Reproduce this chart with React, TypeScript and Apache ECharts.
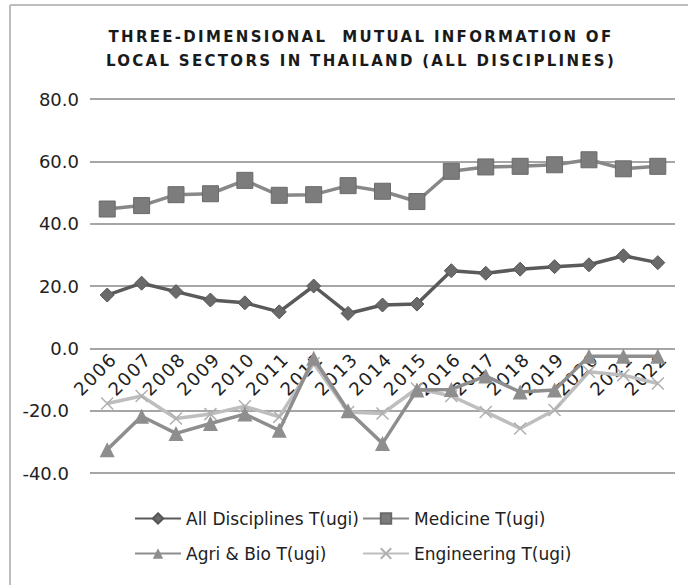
import React, { useEffect, useRef } from "react";
import * as echarts from "echarts";

const years = ["2006","2007","2008","2009","2010","2011","2012","2013","2014","2015","2016","2017","2018","2019","2020","2021","2022"];
const allDisciplines = [17.1, 20.9, 18.2, 15.5, 14.6, 11.7, 20.0, 11.2, 13.9, 14.2, 24.9, 24.1, 25.4, 26.2, 26.8, 29.7, 27.5];
const medicine = [44.7, 45.8, 49.3, 49.6, 53.9, 49.1, 49.3, 52.2, 50.4, 47.1, 56.8, 58.2, 58.4, 58.9, 60.5, 57.6, 58.4];
const agriBio = [-32.5, -21.8, -27.3, -24.1, -21.1, -26.3, -3.2, -20.0, -30.5, -13.4, -13.2, -8.9, -14.0, -13.4, -2.5, -2.5, -2.5];
const engineering = [-17.7, -15.3, -22.5, -21.1, -18.6, -22.0, -4.8, -20.4, -20.9, -12.9, -15.3, -20.4, -25.7, -19.8, -7.5, -8.6, -11.3];
const seriesNames = ["All Disciplines T(ugi)", "Medicine T(ugi)", "Agri & Bio T(ugi)", "Engineering T(ugi)"];
const titleLines = ["THREE-DIMENSIONAL  MUTUAL INFORMATION OF", "LOCAL SECTORS IN THAILAND (ALL DISCIPLINES)"];

export default function App() {
  const ref = useRef<HTMLDivElement>(null);
  useEffect(() => {
    if (!ref.current) return;
    const chart = echarts.init(ref.current, null, { renderer: "svg" });
    const font = "DejaVu Sans";
    const legendPos = [
      { left: 134, top: 510 },
      { left: 362, top: 510 },
      { left: 134, top: 545 },
      { left: 362, top: 545 },
    ];
    chart.setOption({
      animation: false,
      backgroundColor: "#ffffff",
      title: {
        text: titleLines.join("\n"),
        left: 356,
        textAlign: "center",
        top: 20,
        textStyle: {
          fontFamily: "DejaVu Sans",
          fontWeight: "bold",
          fontSize: 15,
          color: "#1a1a1a",
          lineHeight: 24,
        },
      },
      graphic: [
        { type: "line", shape: { x1: 10, y1: 5, x2: 10, y2: 585 }, style: { stroke: "#bdbdbd", lineWidth: 2 } },
        { type: "line", shape: { x1: 10, y1: 5, x2: 688, y2: 5 }, style: { stroke: "#bdbdbd", lineWidth: 2 } },
      ],
      legend: seriesNames.map((n, i) => ({
        data: [n],
        left: legendPos[i].left,
        top: legendPos[i].top,
        itemWidth: 46,
        itemHeight: 13,
        itemGap: 2,
        padding: 0,
        textStyle: { fontFamily: font, fontSize: 17, color: "#222" },
      })),
      grid: { left: 90, right: 13, top: 99, bottom: 112 },
      xAxis: {
        type: "category",
        data: years,
        boundaryGap: true,
        offset: -124.7,
        axisLine: { show: false, onZero: false },
        axisTick: { show: false },
        axisLabel: {
          rotate: 45,
          interval: 0,
          fontFamily: font,
          fontSize: 18,
          color: "#222",
          margin: 1,
          verticalAlign: "top",
        },
      },
      yAxis: {
        type: "value",
        min: -40,
        max: 80,
        interval: 20,
        axisLine: { show: false },
        axisTick: { show: false },
        splitLine: { lineStyle: { color: "#a6a6a6", width: 2 } },
        axisLabel: {
          fontFamily: font,
          fontSize: 18,
          color: "#222",
          margin: 11,
          formatter: (v: number) => (v < 0 ? "{neg|" + v.toFixed(1) + "}" : v.toFixed(1)),
          rich: {
            neg: { fontFamily: font, fontSize: 18, color: "#222", padding: [0, 10, 0, 0] },
          },
        },
      },
      series: [
        {
          name: seriesNames[0],
          type: "line",
          data: allDisciplines,
          symbol: "diamond",
          symbolSize: 14,
          lineStyle: { color: "#5a5a5a", width: 3.5 },
          itemStyle: { color: "#6a6a6a", borderColor: "#555", borderWidth: 1 },
          z: 4,
        },
        {
          name: seriesNames[1],
          type: "line",
          data: medicine,
          symbol: "rect",
          symbolSize: 16,
          lineStyle: { color: "#888888", width: 3.5 },
          itemStyle: { color: "#7c7c7c", borderColor: "#6a6a6a", borderWidth: 1 },
          z: 4,
        },
        {
          name: seriesNames[2],
          type: "line",
          data: agriBio,
          symbol: "triangle",
          symbolSize: 15,
          lineStyle: { color: "#8e8e8e", width: 3.5 },
          itemStyle: { color: "#8e8e8e" },
          z: 3,
        },
        {
          name: seriesNames[3],
          type: "line",
          data: engineering,
          symbol: "path://M0,0L10,10M10,0L0,10",
          symbolSize: 12,
          lineStyle: { color: "#bebebe", width: 3.5 },
          itemStyle: { color: "none", borderColor: "#b0b0b0", borderWidth: 1.5 },
          z: 2,
        },
      ],
    });
    ref.current.querySelectorAll("text").forEach((t) => {
      const c = (t.textContent || "").trim();
      if (c.startsWith("THREE-DIMENSIONAL") || c.startsWith("LOCAL SECTORS")) {
        t.setAttribute("letter-spacing", "2.3");
      } else if (years.includes(c)) {
        t.setAttribute("letter-spacing", "1.5");
      }
    });
    return () => chart.dispose();
  }, []);
  return <div ref={ref} style={{ position: "fixed", left: 0, top: 0, width: 688, height: 585 }} />;
}
